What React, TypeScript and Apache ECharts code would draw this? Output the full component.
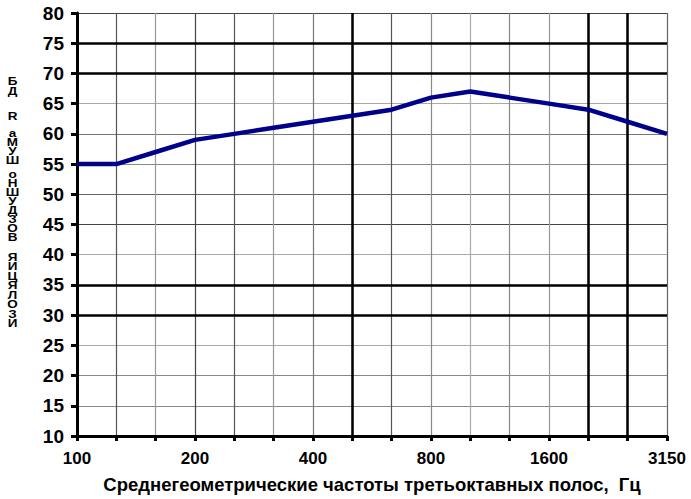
import React, { useEffect, useRef } from "react";
import * as echarts from "echarts";

const frequencies = ["100", "125", "160", "200", "250", "315", "400", "500", "630", "800", "1000", "1250", "1600", "2000", "2500", "3150"];
const insulation = [55, 55, 57, 59, 60, 61, 62, 63, 64, 66, 67, 66, 65, 64, 62, 60];
const thickYLines = [30, 35, 70, 75];
const thickXLines = ["500", "2000", "2500"];
const yAxisTitleChars = ["Б", "Д", "R", "а", "М", "У", "Ш", "о", "Н", "Ш", "У", "Д", "З", "О", "В", "Я", "И", "Ц", "Я", "Л", "О", "З", "И"];
const xAxisTitle = "Среднегеометрические частоты третьоктавных полос,  Гц";

// layout: vertical centre of each stacked title character (px)
const yTitleCharCentres = [81, 91, 116, 133, 142, 151, 160, 174, 183, 192, 201, 210, 219, 228, 237, 257, 266.5, 276, 285.5, 295, 304.5, 314, 323.5];

const FONT = "'Liberation Sans', Arial, sans-serif";

export default function App() {
  const ref = useRef<HTMLDivElement>(null);
  useEffect(() => {
    document.body.style.margin = "0";
    if (!ref.current) return;
    const chart = echarts.init(ref.current, null, { renderer: "svg" });
    const ySplitColors = ["#000", "#888", "#888", "#aaa", "#000", "#000", "#aaa", "#444", "#666", "#888", "#777", "#aaa", "#000", "#000", "#444"];
    const xSplitColors = ["#000", "#555", "#999", "#444", "#555", "#999", "#777", "#000", "#555", "#888", "#aaa", "#888", "#999", "#000", "#000", "#666"];
    chart.setOption({
      animation: false,
      backgroundColor: "#fff",
      grid: { left: 77, right: 24, top: 13, bottom: 61, containLabel: false },
      xAxis: {
        type: "category",
        data: frequencies,
        boundaryGap: false,
        name: xAxisTitle,
        nameLocation: "middle",
        nameGap: 39,
        nameTextStyle: { fontFamily: FONT, fontWeight: "bold", fontSize: 18.5, color: "#000" },
        axisLine: { lineStyle: { color: "#000", width: 3 } },
        axisTick: { show: true, interval: 0, length: 5, lineStyle: { color: "#000", width: 3 } },
        axisLabel: { interval: 2, margin: 14, fontFamily: FONT, fontWeight: "bold", fontSize: 17, color: "#000" },
        splitLine: { show: true, interval: 0, lineStyle: { color: xSplitColors, width: 1.2 } },
      },
      yAxis: {
        type: "value",
        min: 10,
        max: 80,
        interval: 5,
        axisLine: { show: true, lineStyle: { color: "#000", width: 3 } },
        axisTick: { show: true, length: 6, lineStyle: { color: "#000", width: 3 } },
        axisLabel: { margin: 13, fontFamily: FONT, fontWeight: "bold", fontSize: 19, color: "#000" },
        splitLine: { show: true, lineStyle: { color: ySplitColors, width: 1.2 } },
      },
      graphic: yAxisTitleChars.map((ch, i) => ({
        type: "text",
        x: 12.5,
        y: yTitleCharCentres[i],
        scaleY: 0.8,
        style: {
          text: ch,
          fontFamily: FONT,
          fontWeight: "bold",
          fontSize: 13.5,
          lineHeight: 10,
          fill: "#000",
          align: "center",
          verticalAlign: "middle",
        },
      })),
      series: [
        {
          type: "line",
          data: [],
          silent: true,
          z: 1,
          markLine: {
            silent: true,
            symbol: "none",
            label: { show: false },
            lineStyle: { color: "#000", width: 2.5, type: "solid" },
            data: [
              ...thickYLines.map((v) => ({ yAxis: v })),
              ...thickXLines.map((v) => ({ xAxis: v })),
            ],
          },
        },
        {
          type: "line",
          data: insulation,
          symbol: "none",
          z: 5,
          lineStyle: { color: "#00008B", width: 4.5 },
        },
      ],
    });
    return () => chart.dispose();
  }, []);
  return <div ref={ref} style={{ width: 691, height: 499 }} />;
}
